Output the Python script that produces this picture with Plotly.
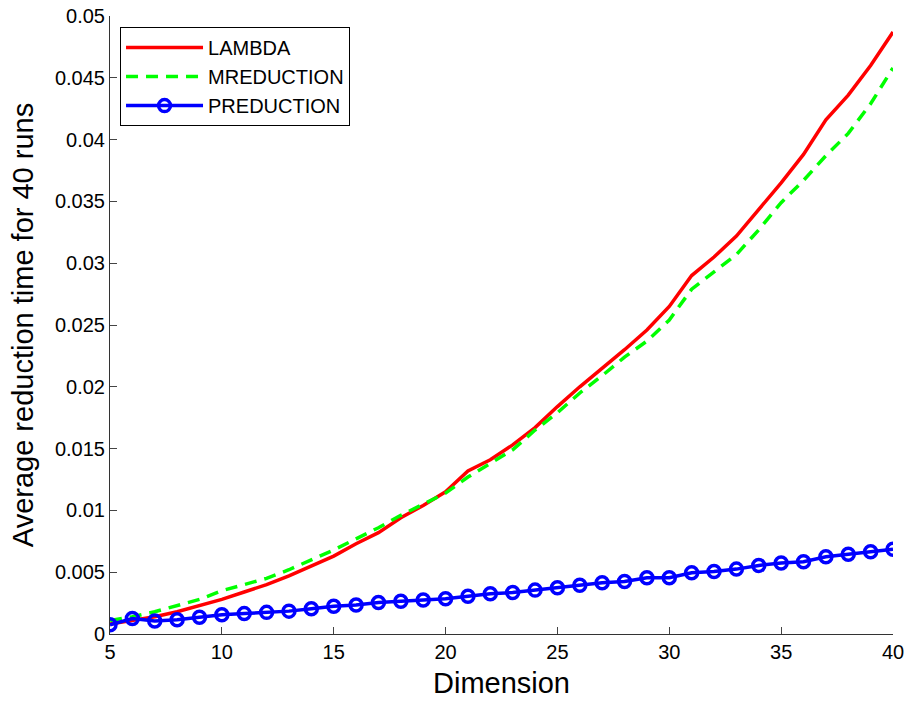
import plotly.graph_objects as go

dimension = list(range(5, 41))

lambda_time = [0.0008, 0.0011, 0.0014, 0.0018, 0.0023, 0.0028, 0.0034, 0.0040, 0.0047, 0.0055,
               0.0063, 0.0073, 0.0082, 0.0094, 0.0104, 0.0115, 0.0132, 0.0141, 0.0153, 0.0167,
               0.0184, 0.0200, 0.0215, 0.0230, 0.0246, 0.0265, 0.0290, 0.0305, 0.0322, 0.0343,
               0.0365, 0.0388, 0.0416, 0.0436, 0.0460, 0.0487]

mreduction_time = [0.0011, 0.0014, 0.0018, 0.0023, 0.0028, 0.0035, 0.0040, 0.0045, 0.0052, 0.0060,
                   0.0068, 0.0077, 0.0086, 0.0096, 0.0105, 0.0114, 0.0127, 0.0138, 0.0149, 0.0165,
                   0.0179, 0.0195, 0.0209, 0.0224, 0.0237, 0.0254, 0.0279, 0.0293, 0.0307, 0.0327,
                   0.0349, 0.0367, 0.0387, 0.0405, 0.0429, 0.0458]

preduction_time = [0.00075, 0.00125, 0.00105, 0.00115, 0.00135, 0.00155, 0.00165, 0.00175, 0.00185, 0.00205,
                   0.00225, 0.00235, 0.00255, 0.00265, 0.00275, 0.00285, 0.00305, 0.00325, 0.00335, 0.00355,
                   0.00375, 0.00395, 0.00415, 0.00425, 0.00455, 0.00455, 0.00495, 0.00505, 0.00525, 0.00555,
                   0.00575, 0.00585, 0.00625, 0.00645, 0.00665, 0.00685]

x_ticks = [5, 10, 15, 20, 25, 30, 35, 40]
y_ticks = [0, 0.005, 0.01, 0.015, 0.02, 0.025, 0.03, 0.035, 0.04, 0.045, 0.05]
y_tick_labels = ["0", "0.005", "0.01", "0.015", "0.02", "0.025", "0.03", "0.035", "0.04", "0.045", "0.05"]

fig = go.Figure()
fig.add_trace(go.Scatter(x=dimension, y=lambda_time, mode="lines", name="LAMBDA",
                         line=dict(color="#ff0000", width=3.5)))
fig.add_trace(go.Scatter(x=dimension, y=mreduction_time, mode="lines", name="MREDUCTION",
                         line=dict(color="#00ff00", width=3.5, dash="12px,8px")))
fig.add_trace(go.Scatter(x=dimension, y=preduction_time, mode="lines+markers", name="PREDUCTION",
                         line=dict(color="#0000ff", width=3.5),
                         marker=dict(symbol="circle-open", size=12, color="#0000ff",
                                     line=dict(width=3.5, color="#0000ff"))))

font_family = "Liberation Sans, Arial, sans-serif"
fig.update_layout(
    width=910, height=702,
    margin=dict(l=110, r=17, t=16, b=68),
    paper_bgcolor="white", plot_bgcolor="white",
    font=dict(family=font_family, color="black", size=20),
    showlegend=True,
    legend=dict(x=0.0128, y=0.982, xanchor="left", yanchor="top",
                bgcolor="white", bordercolor="black", borderwidth=1,
                font=dict(size=20, family=font_family), itemwidth=77,
                tracegroupgap=0),
    xaxis=dict(range=[5, 40], tickvals=x_ticks, ticks="inside", ticklen=7,
               showline=True, linecolor="#333333", linewidth=1, showgrid=False, zeroline=False,
               automargin=False, tickfont=dict(size=20),
               title=dict(text="Dimension", font=dict(size=29), standoff=10)),
    yaxis=dict(range=[0, 0.05], tickvals=y_ticks, ticktext=y_tick_labels, ticks="inside", ticklen=7,
               showline=True, linecolor="#333333", linewidth=1, showgrid=False, zeroline=False,
               automargin=False, tickfont=dict(size=20),
               title=dict(text="Average reduction time for 40 runs", font=dict(size=29), standoff=12)),
)

# remove the default 8px page margin so the 910x702 figure fills the window exactly
fig.write_html("out.html", config={"displayModeBar": False},
               post_script="document.body.style.margin='0';document.body.style.overflow='hidden';")
